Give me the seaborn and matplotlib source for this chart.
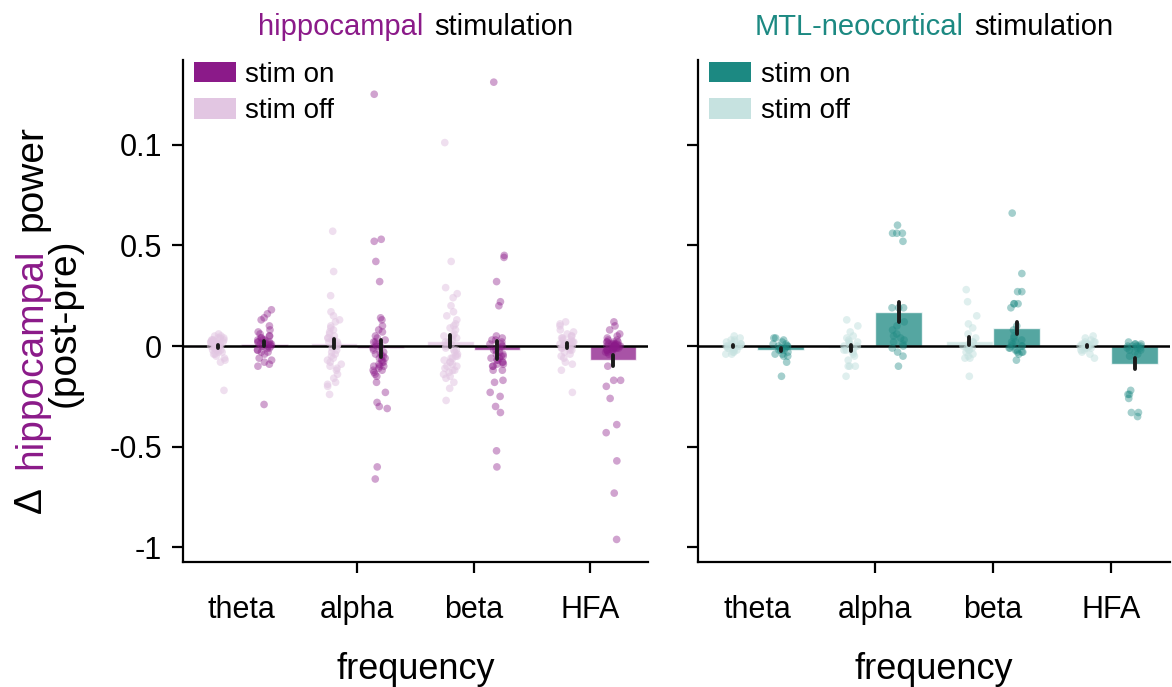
import numpy as np
import pandas as pd
import matplotlib
matplotlib.use("Agg")
import matplotlib.pyplot as plt
import seaborn as sns
from matplotlib.colors import to_rgb
from matplotlib.patches import Patch

sns.set_theme(style="ticks")
plt.rcParams["font.family"] = ["Liberation Sans", "DejaVu Sans"]
plt.rcParams["text.color"] = "black"
plt.rcParams["axes.labelcolor"] = "black"

# ---------------------------------------------------------------- data
bands = ["theta", "alpha", "beta", "HFA"]
conditions = ["stim off", "stim on"]
y_ticks = [-1, -0.5, 0, 0.5, 1]
y_tick_labels = ["-1", "-0.5", "0", "0.5", "0.1"]

# hippocampal stimulation: change in hippocampal power per electrode
hip_theta_off = [0.06, 0.05, 0.05, 0.04, 0.04, 0.03, 0.03, 0.03, 0.02, 0.02, 0.02, 0.01, 0.01, 0.01,
                 0.0, 0.0, 0.0, 0.0, -0.01, -0.01, -0.01, -0.02, -0.02, -0.02, -0.03, -0.03, -0.04,
                 -0.04, -0.05, -0.06, -0.07, -0.08, -0.22, 0.02, 0.01, 0.03, 0.04, 0.0, -0.01, 0.02]
hip_theta_on = [0.18, 0.16, 0.14, 0.13, 0.1, 0.08, 0.07, 0.06, 0.05, 0.05, 0.04, 0.04, 0.03, 0.03,
                0.02, 0.02, 0.02, 0.01, 0.01, 0.01, 0.0, 0.0, 0.0, -0.01, -0.01, -0.02, -0.02, -0.03,
                -0.03, -0.04, -0.06, -0.07, -0.08, -0.09, -0.1, -0.29, 0.03, 0.01, 0.0, 0.02]
hip_alpha_off = [0.57, 0.37, 0.25, 0.17, 0.15, 0.13, 0.12, 0.1, 0.09, 0.08, 0.07, 0.06, 0.05, 0.04,
                 0.03, 0.03, 0.02, 0.01, 0.0, 0.0, -0.01, -0.02, -0.03, -0.04, -0.05, -0.06, -0.07,
                 -0.08, -0.09, -0.1, -0.11, -0.12, -0.14, -0.16, -0.18, -0.19, -0.2, -0.24, 0.02, 0.04]
hip_alpha_on = [1.25, 0.53, 0.52, 0.42, 0.32, 0.14, 0.13, 0.1, 0.08, 0.07, 0.05, 0.04, 0.03, 0.02,
                0.01, 0.0, 0.0, -0.01, -0.02, -0.03, -0.04, -0.05, -0.06, -0.07, -0.08, -0.09, -0.1,
                -0.1, -0.11, -0.12, -0.14, -0.18, -0.23, -0.28, -0.3, -0.31, -0.6, -0.66, -0.03, -0.05,
                -0.08, 0.02, -0.06, -0.12, -0.15, -0.1, -0.13]
hip_beta_off = [1.01, 0.42, 0.29, 0.26, 0.24, 0.2, 0.17, 0.15, 0.13, 0.11, 0.1, 0.09, 0.08, 0.06,
                0.05, 0.04, 0.03, 0.02, 0.01, 0.0, -0.01, -0.02, -0.03, -0.04, -0.05, -0.06, -0.07,
                -0.08, -0.1, -0.12, -0.15, -0.21, -0.27, 0.02, 0.05, -0.02, -0.09, -0.11, -0.13, -0.14,
                -0.16, -0.18, -0.06, -0.08, -0.1, -0.12, -0.05]
hip_beta_on = [1.31, 0.45, 0.44, 0.32, 0.22, 0.2, 0.05, 0.04, 0.03, 0.02, 0.01, 0.0, -0.01, -0.02,
               -0.03, -0.04, -0.05, -0.06, -0.07, -0.08, -0.09, -0.1, -0.12, -0.17, -0.18, -0.23,
               -0.25, -0.3, -0.33, -0.52, -0.6, 0.03, -0.02, -0.04, -0.06, 0.01, -0.08, -0.1, -0.05,
               -0.12, -0.09, -0.07]
hip_hfa_off = [0.12, 0.11, 0.1, 0.08, 0.07, 0.06, 0.05, 0.04, 0.03, 0.02, 0.02, 0.01, 0.01, 0.0,
               0.0, 0.0, -0.01, -0.01, -0.02, -0.02, -0.03, -0.04, -0.05, -0.06, -0.08, -0.09, -0.12,
               -0.23, 0.03, 0.02, 0.01, -0.01, 0.04, 0.05]
hip_hfa_on = [0.04, 0.03, 0.03, 0.02, 0.02, 0.02, 0.01, 0.01, 0.01, 0.01, 0.0, 0.0, 0.0, 0.0, 0.0,
              0.0, 0.0, -0.01, -0.01, -0.01, -0.01, -0.02, -0.02, -0.02, -0.03, -0.03, -0.04, 0.01,
              0.0, -0.01, 0.02, -0.02, 0.0, 0.01, -0.01, 0.12, 0.1, 0.08, 0.06, 0.05, -0.1, -0.17,
              -0.17, -0.2, -0.26, -0.39, -0.43, -0.57, -0.73, -0.96]

# MTL-neocortical stimulation: change in hippocampal power per electrode
mtl_theta_off = [0.05, 0.04, 0.03, 0.03, 0.02, 0.02, 0.01, 0.01, 0.0, 0.0, 0.0, -0.01, -0.01, -0.02,
                 -0.02, -0.03, -0.03, -0.04, -0.04, 0.01, 0.0, -0.01]
mtl_theta_on = [0.04, 0.04, 0.03, 0.02, 0.01, 0.0, 0.0, -0.01, -0.01, -0.02, -0.02, -0.03, -0.04,
                -0.04, -0.05, -0.05, -0.08, -0.15, 0.01, -0.01, 0.0, -0.02]
mtl_alpha_off = [0.13, 0.1, 0.07, 0.05, 0.04, 0.03, 0.02, 0.01, 0.0, -0.01, -0.02, -0.03, -0.04,
                 -0.05, -0.07, -0.1, -0.1, -0.1, -0.15, 0.02, -0.02, 0.0]
mtl_alpha_on = [0.6, 0.56, 0.56, 0.56, 0.52, 0.19, 0.19, 0.19, 0.1, 0.08, 0.05, 0.03, 0.02, 0.01,
                0.0, -0.01, -0.03, -0.05, -0.1, 0.12, 0.06, 0.04]
mtl_beta_off = [0.28, 0.22, 0.15, 0.11, 0.09, 0.06, 0.04, 0.02, 0.01, 0.0, -0.01, -0.02, -0.03,
                -0.06, -0.06, -0.15, 0.0, -0.01, 0.02, -0.04, -0.05, -0.02]
mtl_beta_on = [0.66, 0.36, 0.27, 0.27, 0.21, 0.21, 0.21, 0.19, 0.1, 0.08, 0.05, 0.04, 0.03, 0.02,
               0.01, 0.0, -0.01, -0.02, -0.03, -0.03, -0.07, 0.02, 0.0, -0.02, -0.03, -0.04, -0.01,
               0.0]
mtl_hfa_off = [0.05, 0.04, 0.03, 0.02, 0.02, 0.01, 0.01, 0.0, 0.0, 0.0, -0.01, -0.01, -0.02, -0.02,
               -0.03, -0.04, -0.06, 0.01, 0.0, -0.01, 0.02, 0.01]
mtl_hfa_on = [0.02, 0.01, 0.01, 0.01, 0.0, 0.0, 0.0, 0.0, 0.0, -0.01, -0.01, -0.01, -0.02, -0.02,
              -0.03, -0.04, -0.05, -0.22, -0.24, -0.24, -0.26, -0.33, -0.33, -0.35]

hip_color = "#8b1a89"
mtl_color = "#1c8982"


def to_frame(groups):
    rows = []
    for (band, cond), vals in groups.items():
        rows += [{"band": band, "condition": cond, "value": v} for v in vals]
    return pd.DataFrame(rows)


hip_df = to_frame({
    ("theta", "stim off"): hip_theta_off, ("theta", "stim on"): hip_theta_on,
    ("alpha", "stim off"): hip_alpha_off, ("alpha", "stim on"): hip_alpha_on,
    ("beta", "stim off"): hip_beta_off, ("beta", "stim on"): hip_beta_on,
    ("HFA", "stim off"): hip_hfa_off, ("HFA", "stim on"): hip_hfa_on,
})
mtl_df = to_frame({
    ("theta", "stim off"): mtl_theta_off, ("theta", "stim on"): mtl_theta_on,
    ("alpha", "stim off"): mtl_alpha_off, ("alpha", "stim on"): mtl_alpha_on,
    ("beta", "stim off"): mtl_beta_off, ("beta", "stim on"): mtl_beta_on,
    ("HFA", "stim off"): mtl_hfa_off, ("HFA", "stim on"): mtl_hfa_on,
})


def tint(color, amount):
    c = np.array(to_rgb(color))
    return tuple(c * amount + (1 - amount))


# ---------------------------------------------------------------- figure
np.random.seed(3)
W, H = 1172, 687
fig = plt.figure(figsize=(W / 100, H / 100), dpi=100)
ax1 = fig.add_axes([183 / W, 125 / H, 465 / W, 502 / H])
ax2 = fig.add_axes([698 / W, 125 / H, 472 / W, 502 / H], sharey=ax1)

TICK_FS, LABEL_FS, TITLE_FS, LEGEND_FS = 22, 26, 21, 20


def draw_panel(ax, df, base):
    light = tint(base, 0.25)
    pal = {"stim off": light, "stim on": base}
    sns.barplot(data=df, x="band", y="value", hue="condition", order=bands,
                hue_order=conditions, palette=pal, saturation=1, errorbar="se",
                err_kws={"color": "#1a1a1a", "linewidth": 2.8}, alpha=0.75,
                width=0.8, ax=ax, legend=False)
    err_lines = list(ax.lines)
    for cond, alpha in [("stim off", 0.55), ("stim on", 0.4)]:
        sns.stripplot(data=df[df["condition"] == cond], x="band", y="value",
                      hue="condition", order=bands, hue_order=conditions,
                      palette=pal, dodge=True, jitter=0.13, size=5.5, alpha=alpha,
                      linewidth=0, ax=ax, legend=False, zorder=3)
    for ln in err_lines:
        ln.set_zorder(5)
    ax.axhline(0, color="black", linewidth=1.8, zorder=2)

    ax.set_xlim(-0.5, 3.5)
    ax.set_ylim(-1.072, 1.42)
    ax.set_yticks(y_ticks)
    ax.set_xticks(range(len(bands)))
    ax.set_xticklabels(bands)
    ax.tick_params(axis="both", length=8, width=1.6, color="black",
                   labelsize=TICK_FS, labelcolor="black")
    ax.tick_params(axis="x", pad=16)
    ax.tick_params(axis="y", pad=7)
    ax.xaxis.get_major_ticks()[0].tick1line.set_visible(False)
    ax.set_xlabel("frequency", fontsize=LABEL_FS, labelpad=19, color="black")
    ax.set_ylabel("")
    sns.despine(ax=ax)
    for side in ("left", "bottom"):
        ax.spines[side].set_linewidth(1.6)
        ax.spines[side].set_color("black")

    handles = [Patch(facecolor=base, edgecolor="none", label="stim on"),
               Patch(facecolor=light, edgecolor="none", label="stim off")]
    ax.legend(handles=handles, loc="upper left", bbox_to_anchor=(11 / 465, 0.997),
              frameon=False, fontsize=LEGEND_FS, handlelength=1.5, handleheight=0.75,
              handletextpad=0.35, labelspacing=0.38, borderpad=0, borderaxespad=0,
              labelcolor="black")


draw_panel(ax1, hip_df, hip_color)
draw_panel(ax2, mtl_df, mtl_color)
ax1.set_yticklabels(y_tick_labels)
ax2.tick_params(axis="y", labelleft=False)

fig.canvas.draw()
renderer = fig.canvas.get_renderer()


def colored_line(pieces, anchor_px, size, vertical=False, gap_px=11):
    """Lay out differently coloured words one after another, centred on anchor."""
    texts = [fig.text(0, 0, s, color=c, fontsize=size, rotation=90 if vertical else 0,
                      rotation_mode="anchor", ha="left", va="baseline")
             for s, c in pieces]
    lens = []
    for t in texts:
        bb = t.get_window_extent(renderer)
        lens.append(bb.height if vertical else bb.width)
    total = sum(lens) + gap_px * (len(texts) - 1)
    cx, cy = anchor_px
    pos = (cy if vertical else cx) - total / 2
    for t, L in zip(texts, lens):
        if vertical:
            t.set_position((cx / W, pos / H))
        else:
            t.set_position((pos / W, cy / H))
        pos += L + gap_px


# panel titles (baseline 35 px from the top)
colored_line([("hippocampal", hip_color), ("stimulation", "black")],
             ((183 + 648) / 2, H - 35), TITLE_FS, gap_px=11)
colored_line([("MTL-neocortical", mtl_color), ("stimulation", "black")],
             ((698 + 1170) / 2, H - 35), TITLE_FS, gap_px=11)

# y-axis label
colored_line([("\u0394", "black"), ("hippocampal", hip_color), ("power", "black")],
             (41, H - 319), 28, vertical=True, gap_px=18)
fig.text(75 / W, (H - 323) / H, "(post-pre)", rotation=90, rotation_mode="anchor",
         ha="center", va="baseline", fontsize=28, color="black")

fig.savefig("out.png", dpi=100)
